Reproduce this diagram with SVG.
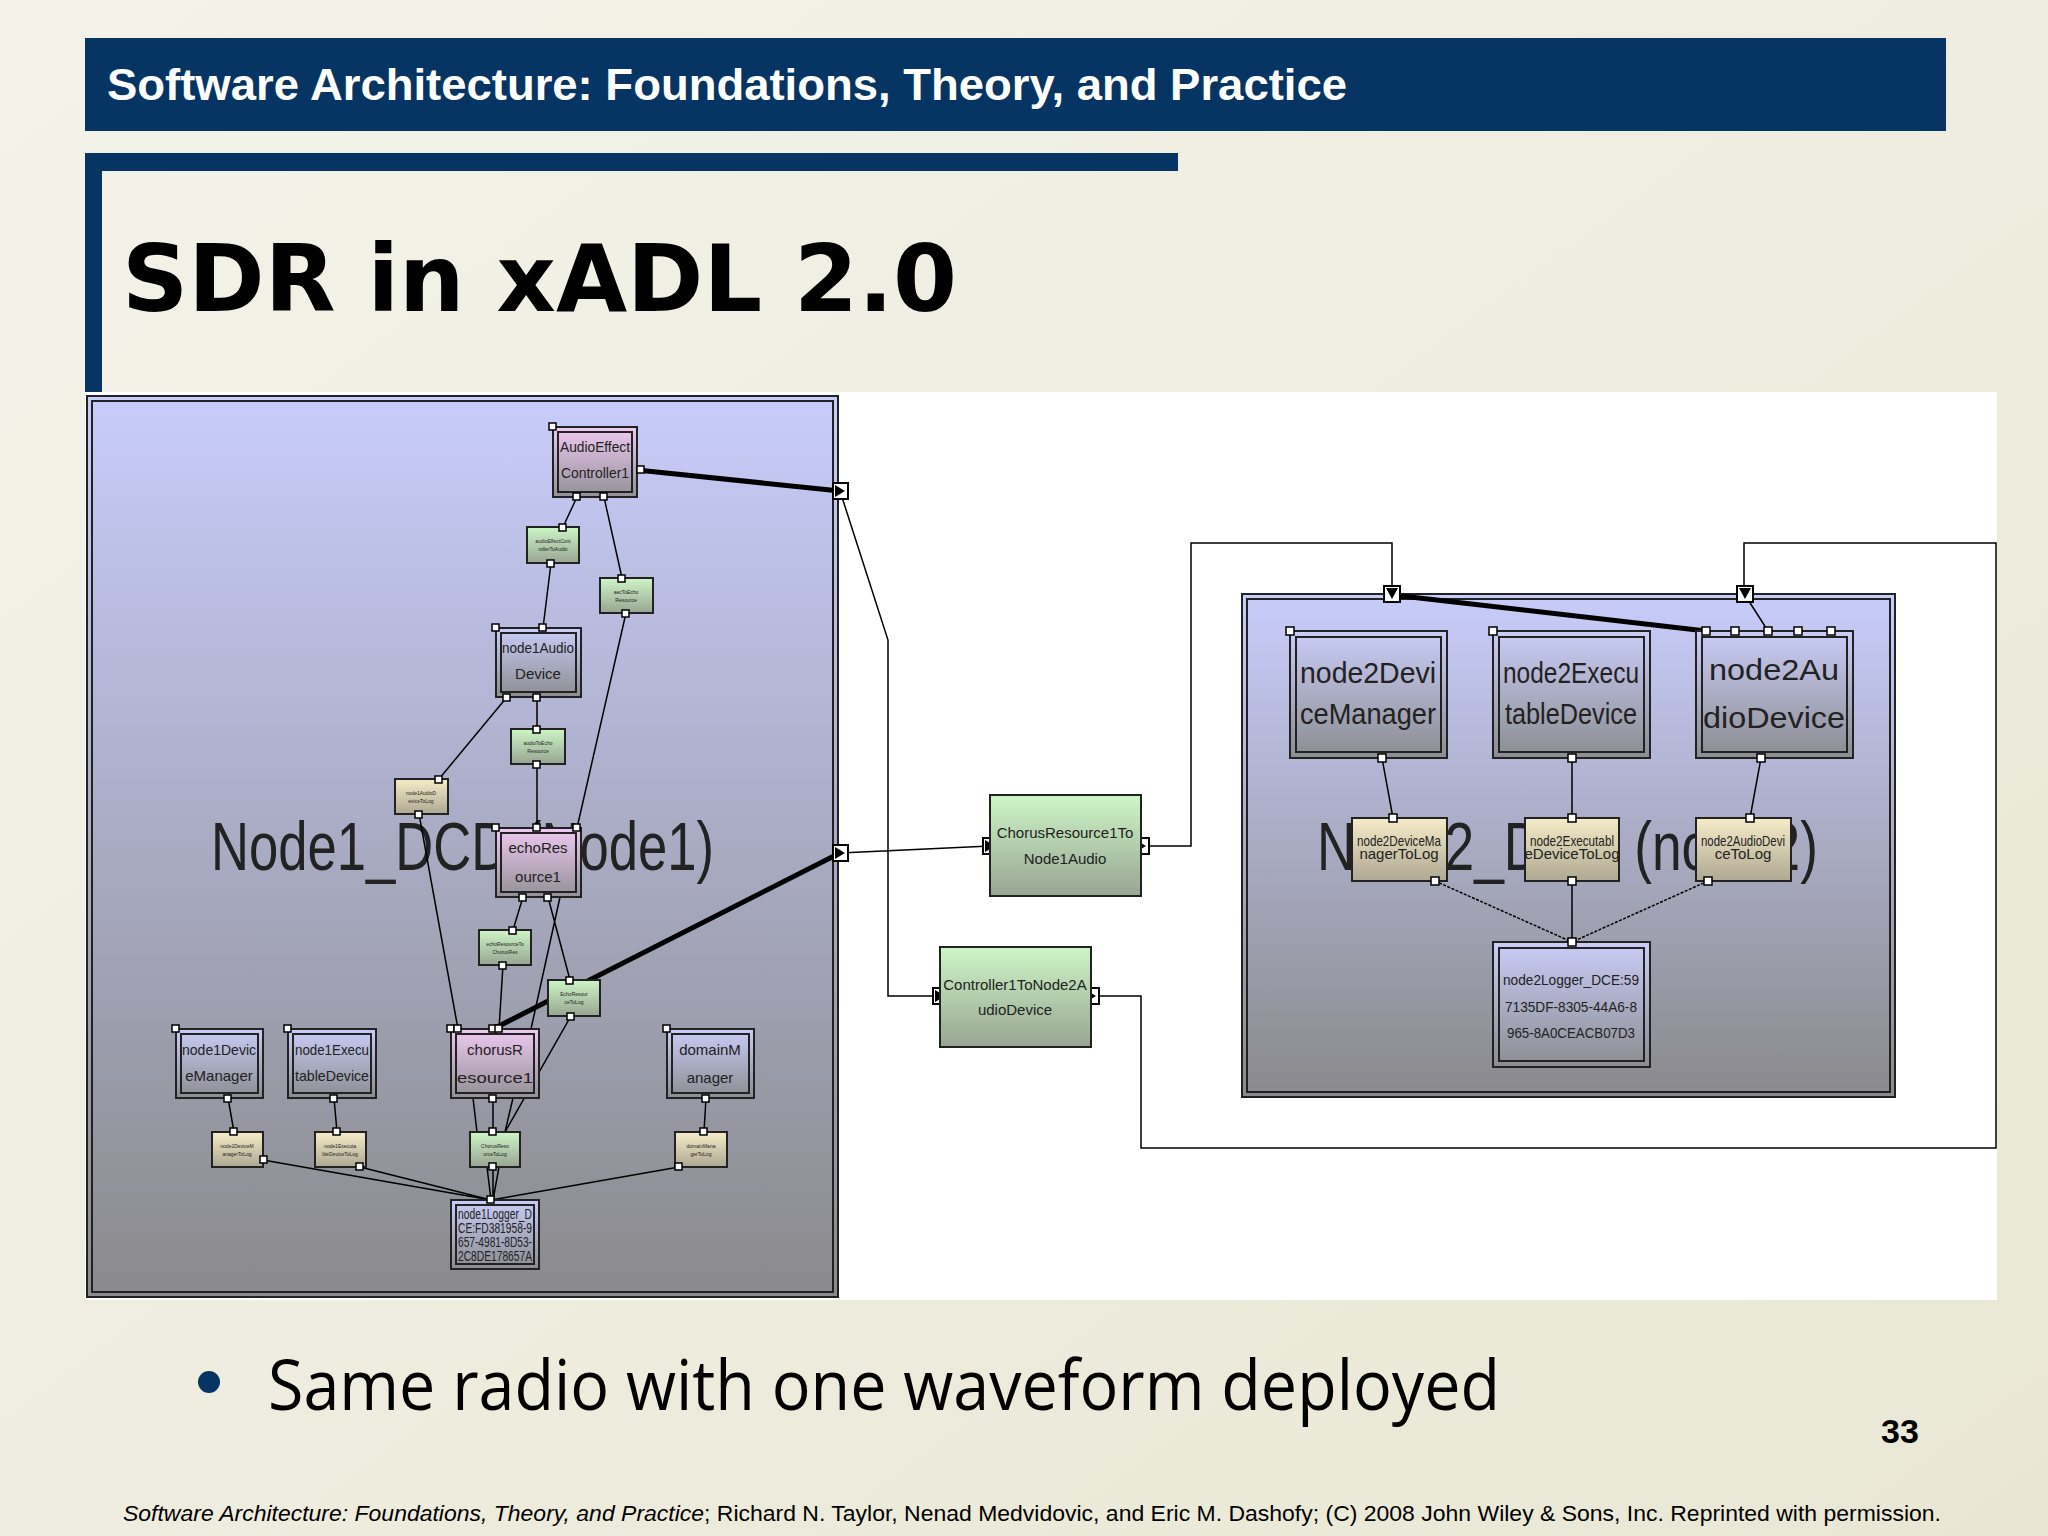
<svg xmlns="http://www.w3.org/2000/svg" width="2048" height="1536" viewBox="0 0 2048 1536">
<defs>
<linearGradient id="bg" x1="0" y1="0" x2="1" y2="1"><stop offset="0" stop-color="#f4f3ea"/><stop offset="1" stop-color="#e9e7d4"/></linearGradient>
<linearGradient id="panel" x1="0" y1="0" x2="0" y2="1"><stop offset="0" stop-color="#c8ccfa"/><stop offset="1" stop-color="#8a8a8c"/></linearGradient>
<linearGradient id="blue" x1="0" y1="0" x2="0" y2="1"><stop offset="0" stop-color="#c9cdf8"/><stop offset="1" stop-color="#8c8c90"/></linearGradient>
<linearGradient id="pink" x1="0" y1="0" x2="0" y2="1"><stop offset="0" stop-color="#efc9f2"/><stop offset="1" stop-color="#929096"/></linearGradient>
<linearGradient id="green" x1="0" y1="0" x2="0" y2="1"><stop offset="0" stop-color="#cdf5c6"/><stop offset="1" stop-color="#98a592"/></linearGradient>
<linearGradient id="tan" x1="0" y1="0" x2="0" y2="1"><stop offset="0" stop-color="#f6ecc8"/><stop offset="1" stop-color="#aea892"/></linearGradient>
</defs>
<style>
.o{stroke:#222;stroke-width:2}
.n{stroke:#222;stroke-width:2;fill:none}
.c{stroke:#000;stroke-width:1.5;fill:none}
.ck{stroke:#000;stroke-width:5;fill:none}
.big{font-family:"Liberation Sans",Arial,sans-serif;fill:#222}
.sm{font-family:"Liberation Sans",Arial,sans-serif;font-size:5px;fill:#222;text-anchor:middle}
.md{font-family:"Liberation Sans",Arial,sans-serif;font-size:15px;fill:#222;text-anchor:middle}
.lg{font-family:"Liberation Sans",Arial,sans-serif;font-size:29px;fill:#222;text-anchor:middle}
.bp{fill:#fff;stroke:#000;stroke-width:2}
</style>
<rect width="2048" height="1536" fill="url(#bg)"/>
<rect x="85" y="38" width="1861" height="93" fill="#063563"/>
<text x="107" y="100" font-family="Liberation Sans,Arial,sans-serif" font-weight="bold" font-size="44" fill="#fff" textLength="1240" lengthAdjust="spacingAndGlyphs">Software Architecture: Foundations, Theory, and Practice</text>
<rect x="85" y="153" width="1093" height="18" fill="#063563"/>
<rect x="85" y="153" width="17" height="240" fill="#063563"/>
<text x="122" y="311" font-family="DejaVu Sans,Verdana,sans-serif" font-weight="bold" font-size="92" fill="#000">SDR in xADL 2.0</text>
<rect x="85" y="392" width="1912" height="908" fill="#fff"/>

<g id="node1-panel">
<rect x="87" y="396" width="751" height="901" fill="url(#panel)" class="o"/>
<rect x="92" y="401" width="741" height="891" class="n"/>
<text x="211" y="870" class="big" font-size="68" textLength="503" lengthAdjust="spacingAndGlyphs">Node1_DCD (Node1)</text>
</g>
<g id="node2-panel">
<rect x="1242" y="594" width="653" height="503" fill="url(#panel)" class="o"/>
<rect x="1247" y="599" width="643" height="493" class="n"/>
<text x="1317" y="870" class="big" font-size="68" textLength="501" lengthAdjust="spacingAndGlyphs">Node2_DCD (node2)</text>
</g>

<g id="connectors">
<path class="c" d="M577 497L563 527M551 563L543 628M604 497L622 578M626 613L577 828M507 697L439 779M537 697V729M537 764V828M419 814L458 1029M523 897L513 930M503 965L499 1029M548 897L570 980M571 1016L505 1132M560 897L531 1029M473 1098L477 1132M493 1098V1132M513 1098L505 1132M487 1167L491 1200M493 1167V1200M499 1167L493 1200M228 1098L234 1132M263 1160L491 1200M334 1098L337 1132M360 1167L491 1200M706 1098L704 1132M679 1167L491 1200"/>
<path class="ck" d="M637 470L840 491M840 853L493 1029M1393 595L1706 631"/>
<path class="c" d="M840 491L888 640V996H940M840 853L990 846M1141 846H1191V543H1392V594M1091 996H1141V1148H1996V543H1744V594M1745 595L1768 631"/>
<path class="c" d="M1382 758L1393 818M1572 758V818M1761 758L1750 818M1572 881V942"/>
<path class="c" stroke-dasharray="3 1.5" d="M1435 881L1572 942M1708 881L1572 942"/>
<g>
<rect x="833" y="483" width="15" height="16" class="bp"/><path d="M835 485l10 6-10 6z"/>
<rect x="833" y="845" width="15" height="16" class="bp"/><path d="M835 847l10 6-10 6z"/>
<rect x="983" y="838" width="15" height="16" class="bp"/><path d="M985 840l10 6-10 6z"/>
<rect x="1134" y="838" width="15" height="16" class="bp"/><path d="M1136 840l10 6-10 6z"/>
<rect x="933" y="988" width="15" height="16" class="bp"/><path d="M935 990l10 6-10 6z"/>
<rect x="1084" y="988" width="15" height="16" class="bp"/><path d="M1086 990l10 6-10 6z"/>
<rect x="1384" y="586" width="16" height="16" class="bp"/><path d="M1386 588h12l-6 11z"/>
<rect x="1737" y="586" width="16" height="16" class="bp"/><path d="M1739 588h12l-6 11z"/>
</g>
</g>

<g id="AudioEffectController1"><rect x="553" y="427" width="84" height="70" fill="url(#pink)" class="o"/><rect x="558" y="432" width="74" height="60" class="n"/><text x="595" y="452" class="md" font-size="13" textLength="70" lengthAdjust="spacingAndGlyphs">AudioEffect</text><text x="595" y="478" class="md" font-size="13" textLength="68" lengthAdjust="spacingAndGlyphs">Controller1</text></g>
<g id="c-aec-audio"><rect x="527" y="527" width="52" height="36" fill="url(#green)" class="o"/><text x="553" y="543" class="sm">audioEffectCont</text><text x="553" y="551" class="sm">rollerToAudio</text></g>
<g id="c-aec-echo"><rect x="600" y="578" width="53" height="35" fill="url(#green)" class="o"/><text x="626" y="594" class="sm">aecToEcho</text><text x="626" y="602" class="sm">Resource</text></g>
<g id="node1AudioDevice"><rect x="496" y="628" width="85" height="69" fill="url(#blue)" class="o"/><rect x="501" y="633" width="75" height="59" class="n"/><text x="538" y="653" class="md" font-size="14" textLength="72" lengthAdjust="spacingAndGlyphs">node1Audio</text><text x="538" y="679" class="md" font-size="14">Device</text></g>
<g id="c-audio-echo"><rect x="511" y="729" width="54" height="35" fill="url(#green)" class="o"/><text x="538" y="745" class="sm">audioToEcho</text><text x="538" y="753" class="sm">Resource</text></g>
<g id="node1AudioDeviceToLog"><rect x="395" y="779" width="53" height="35" fill="url(#tan)" class="o"/><text x="421" y="795" class="sm">node1AudioD</text><text x="421" y="803" class="sm">eviceToLog</text></g>
<g id="echoResource1"><rect x="496" y="828" width="85" height="69" fill="url(#pink)" class="o"/><rect x="501" y="833" width="75" height="59" class="n"/><text x="538" y="853" class="md" font-size="17">echoRes</text><text x="538" y="882" class="md" font-size="17">ource1</text></g>
<g id="c-echo-chorus"><rect x="479" y="930" width="52" height="35" fill="url(#green)" class="o"/><text x="505" y="946" class="sm">echoResourceTo</text><text x="505" y="954" class="sm">ChorusRes</text></g>
<g id="EchoResourceToLog"><rect x="548" y="980" width="52" height="36" fill="url(#green)" class="o"/><text x="574" y="996" class="sm">EchoResour</text><text x="574" y="1004" class="sm">ceToLog</text></g>
<g id="node1DeviceManager"><rect x="176" y="1029" width="87" height="69" fill="url(#blue)" class="o"/><rect x="181" y="1034" width="77" height="59" class="n"/><text x="219" y="1055" class="md" font-size="14" textLength="74" lengthAdjust="spacingAndGlyphs">node1Devic</text><text x="219" y="1081" class="md" font-size="14">eManager</text></g>
<g id="node1ExecutableDevice"><rect x="288" y="1029" width="88" height="69" fill="url(#blue)" class="o"/><rect x="293" y="1034" width="78" height="59" class="n"/><text x="332" y="1055" class="md" font-size="14" textLength="74" lengthAdjust="spacingAndGlyphs">node1Execu</text><text x="332" y="1081" class="md" font-size="14" textLength="74" lengthAdjust="spacingAndGlyphs">tableDevice</text></g>
<g id="chorusResource1"><rect x="451" y="1029" width="88" height="69" fill="url(#pink)" class="o"/><rect x="456" y="1034" width="78" height="59" class="n"/><text x="495" y="1055" class="md" font-size="19">chorusR</text><text x="495" y="1083" class="md" font-size="19" textLength="76" lengthAdjust="spacingAndGlyphs">esource1</text></g>
<g id="domainManager"><rect x="667" y="1029" width="87" height="69" fill="url(#blue)" class="o"/><rect x="672" y="1034" width="77" height="59" class="n"/><text x="710" y="1055" class="md" font-size="18">domainM</text><text x="710" y="1083" class="md" font-size="18">anager</text></g>
<g id="node1DeviceManagerToLog"><rect x="212" y="1132" width="51" height="35" fill="url(#tan)" class="o"/><text x="237" y="1148" class="sm">node1DeviceM</text><text x="237" y="1156" class="sm">anagerToLog</text></g>
<g id="node1ExecutableDeviceToLog"><rect x="315" y="1132" width="51" height="35" fill="url(#tan)" class="o"/><text x="340" y="1148" class="sm">node1Executa</text><text x="340" y="1156" class="sm">bleDeviceToLog</text></g>
<g id="ChorusResourceToLog"><rect x="470" y="1132" width="50" height="35" fill="url(#green)" class="o"/><text x="495" y="1148" class="sm">ChorusReso</text><text x="495" y="1156" class="sm">urceToLog</text></g>
<g id="domainManagerToLog"><rect x="675" y="1132" width="52" height="35" fill="url(#tan)" class="o"/><text x="701" y="1148" class="sm">domainMana</text><text x="701" y="1156" class="sm">gerToLog</text></g>
<g id="node1Logger"><rect x="451" y="1200" width="88" height="69" fill="url(#blue)" class="o"/><rect x="456" y="1205" width="78" height="59" class="n"/><text x="495" y="1219" class="md" font-size="11" textLength="74" lengthAdjust="spacingAndGlyphs">node1Logger_D</text><text x="495" y="1233" class="md" font-size="11" textLength="74" lengthAdjust="spacingAndGlyphs">CE:FD381958-9</text><text x="495" y="1247" class="md" font-size="11" textLength="74" lengthAdjust="spacingAndGlyphs">657-4981-8D53-</text><text x="495" y="1261" class="md" font-size="11" textLength="74" lengthAdjust="spacingAndGlyphs">2C8DE178657A</text></g>

<g id="ChorusResource1ToNode1Audio"><rect x="990" y="795" width="151" height="101" fill="url(#green)" class="o"/><text x="1065" y="838" class="md" font-size="14">ChorusResource1To</text><text x="1065" y="864" class="md" font-size="14">Node1Audio</text></g>
<g id="Controller1ToNode2AudioDevice"><rect x="940" y="947" width="151" height="100" fill="url(#green)" class="o"/><text x="1015" y="990" class="md" font-size="14">Controller1ToNode2A</text><text x="1015" y="1015" class="md" font-size="14">udioDevice</text></g>

<g id="node2DeviceManager"><rect x="1290" y="631" width="157" height="127" fill="url(#blue)" class="o"/><rect x="1296" y="637" width="145" height="115" class="n"/><text x="1368" y="683" class="lg" font-size="28" textLength="136" lengthAdjust="spacingAndGlyphs">node2Devi</text><text x="1368" y="724" class="lg" font-size="28" textLength="136" lengthAdjust="spacingAndGlyphs">ceManager</text></g>
<g id="node2ExecutableDevice"><rect x="1493" y="631" width="157" height="127" fill="url(#blue)" class="o"/><rect x="1499" y="637" width="145" height="115" class="n"/><text x="1571" y="683" class="lg" font-size="28" textLength="136" lengthAdjust="spacingAndGlyphs">node2Execu</text><text x="1571" y="724" class="lg" font-size="28" textLength="132" lengthAdjust="spacingAndGlyphs">tableDevice</text></g>
<g id="node2AudioDevice"><rect x="1696" y="631" width="157" height="127" fill="url(#blue)" class="o"/><rect x="1702" y="637" width="145" height="115" class="n"/><text x="1774" y="680" class="lg" font-size="35" textLength="130" lengthAdjust="spacingAndGlyphs">node2Au</text><text x="1774" y="728" class="lg" font-size="35" textLength="142" lengthAdjust="spacingAndGlyphs">dioDevice</text></g>
<g id="node2DeviceManagerToLog"><rect x="1352" y="818" width="95" height="63" fill="url(#tan)" class="o"/><text x="1399" y="846" class="md" font-size="10" textLength="84" lengthAdjust="spacingAndGlyphs">node2DeviceMa</text><text x="1399" y="859" class="md" font-size="10">nagerToLog</text></g>
<g id="node2ExecutableDeviceToLog"><rect x="1525" y="818" width="94" height="63" fill="url(#tan)" class="o"/><text x="1572" y="846" class="md" font-size="10" textLength="84" lengthAdjust="spacingAndGlyphs">node2Executabl</text><text x="1572" y="859" class="md" font-size="10">eDeviceToLog</text></g>
<g id="node2AudioDeviceToLog"><rect x="1696" y="818" width="95" height="63" fill="url(#tan)" class="o"/><text x="1743" y="846" class="md" font-size="10" textLength="84" lengthAdjust="spacingAndGlyphs">node2AudioDevi</text><text x="1743" y="859" class="md" font-size="10">ceToLog</text></g>
<g id="node2Logger"><rect x="1493" y="942" width="157" height="125" fill="url(#blue)" class="o"/><rect x="1499" y="948" width="145" height="113" class="n"/><text x="1571" y="985" class="md" font-size="14" textLength="136" lengthAdjust="spacingAndGlyphs">node2Logger_DCE:59</text><text x="1571" y="1012" class="md" font-size="14" textLength="132" lengthAdjust="spacingAndGlyphs">7135DF-8305-44A6-8</text><text x="1571" y="1038" class="md" font-size="14" textLength="128" lengthAdjust="spacingAndGlyphs">965-8A0CEACB07D3</text></g>

<g fill="#fff" stroke="#000" stroke-width="1.5">
<rect x="549" y="423" width="7" height="7"/><rect x="637" y="466" width="7" height="7"/>
<rect x="573" y="493" width="7" height="7"/><rect x="600" y="493" width="7" height="7"/>
<rect x="559" y="524" width="7" height="7"/><rect x="547" y="560" width="7" height="7"/>
<rect x="618" y="575" width="7" height="7"/><rect x="622" y="610" width="7" height="7"/>
<rect x="492" y="624" width="7" height="7"/><rect x="539" y="624" width="7" height="7"/>
<rect x="503" y="694" width="7" height="7"/><rect x="533" y="694" width="7" height="7"/>
<rect x="533" y="726" width="7" height="7"/><rect x="533" y="761" width="7" height="7"/>
<rect x="435" y="776" width="7" height="7"/><rect x="415" y="811" width="7" height="7"/>
<rect x="492" y="824" width="7" height="7"/><rect x="533" y="824" width="7" height="7"/><rect x="573" y="824" width="7" height="7"/>
<rect x="519" y="894" width="7" height="7"/><rect x="544" y="894" width="7" height="7"/>
<rect x="509" y="927" width="7" height="7"/><rect x="499" y="962" width="7" height="7"/>
<rect x="566" y="977" width="7" height="7"/><rect x="567" y="1013" width="7" height="7"/>
<rect x="172" y="1025" width="7" height="7"/><rect x="284" y="1025" width="7" height="7"/><rect x="447" y="1025" width="7" height="7"/><rect x="663" y="1025" width="7" height="7"/>
<rect x="454" y="1025" width="7" height="7"/><rect x="489" y="1025" width="7" height="7"/><rect x="495" y="1025" width="7" height="7"/>
<rect x="224" y="1095" width="7" height="7"/><rect x="330" y="1095" width="7" height="7"/><rect x="489" y="1095" width="7" height="7"/><rect x="702" y="1095" width="7" height="7"/>
<rect x="230" y="1128" width="7" height="7"/><rect x="333" y="1128" width="7" height="7"/><rect x="489" y="1128" width="7" height="7"/><rect x="700" y="1128" width="7" height="7"/>
<rect x="260" y="1156" width="7" height="7"/><rect x="356" y="1163" width="7" height="7"/><rect x="489" y="1163" width="7" height="7"/><rect x="675" y="1163" width="7" height="7"/>
<rect x="487" y="1196" width="7" height="7"/>
<rect x="1286" y="627" width="8" height="8"/><rect x="1489" y="627" width="8" height="8"/>
<rect x="1702" y="627" width="8" height="8"/><rect x="1731" y="627" width="8" height="8"/><rect x="1764" y="627" width="8" height="8"/><rect x="1794" y="627" width="8" height="8"/><rect x="1827" y="627" width="8" height="8"/>
<rect x="1378" y="754" width="8" height="8"/><rect x="1568" y="754" width="8" height="8"/><rect x="1757" y="754" width="8" height="8"/>
<rect x="1389" y="814" width="8" height="8"/><rect x="1568" y="814" width="8" height="8"/><rect x="1746" y="814" width="8" height="8"/>
<rect x="1431" y="877" width="8" height="8"/><rect x="1568" y="877" width="8" height="8"/><rect x="1704" y="877" width="8" height="8"/>
<rect x="1568" y="938" width="8" height="8"/>
</g>

<circle cx="209" cy="1382" r="11" fill="#063563"/>
<text x="268" y="1410" font-family="Open Sans,DejaVu Sans,sans-serif" font-size="70" fill="#000" textLength="1232" lengthAdjust="spacingAndGlyphs">Same radio with one waveform deployed</text>
<text x="1881" y="1443" font-family="Liberation Sans,Arial,sans-serif" font-weight="bold" font-size="34" fill="#000">33</text>
<text x="123" y="1521" font-family="Liberation Sans,Arial,sans-serif" font-size="22" fill="#000" textLength="1818" lengthAdjust="spacingAndGlyphs"><tspan font-style="italic">Software Architecture: Foundations, Theory, and Practice</tspan>; Richard N. Taylor, Nenad Medvidovic, and Eric M. Dashofy; (C) 2008 John Wiley &amp; Sons, Inc. Reprinted with permission.</text>
</svg>
